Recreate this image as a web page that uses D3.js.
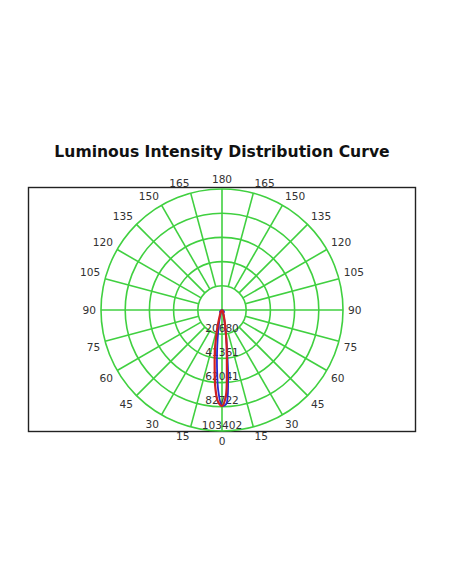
<!DOCTYPE html>
<html><head><meta charset="utf-8">
<script src="https://cdn.jsdelivr.net/npm/d3@7/dist/d3.min.js"></script>
<style>html,body{margin:0;padding:0;background:#fff;}svg{display:block;}</style>
</head><body><svg id="c" width="452" height="584"></svg>
<script>
const title = "Luminous Intensity Distribution Curve";
const ringValues = [20680, 41361, 62041, 82722, 103402];
const angleTicks = [0, 15, 30, 45, 60, 75, 90, 105, 120, 135, 150, 165, 180];
// signed angles (deg, from nadir; negative = left half)
const curveAngles = [-180,-90,-60,-45,-35,-30,-25,-20,-17.5,-15,-12.5,-10,-7.5,-5,-2.5,0,2.5,5,7.5,10,12.5,15,17.5,20,25,30,35,45,60,90,180];
const redValues  = [0,0,200,600,1300,2200,3600,6000,9000,15000,23000,35000,48000,66000,78500,82000,74000,48000,30000,18000,11000,7000,4500,3000,1800,1200,800,400,100,0,0];
const blueValues = [0,300,1500,2500,1200,1500,2600,4000,5500,8000,12000,19000,31000,49000,70000,81500,80500,60000,32000,17000,10000,6500,4500,3000,2000,1500,1200,2500,1500,300,0];

const svg = d3.select("#c");
const cx = 222, cy = 310, R = 121;
const font = "DejaVu Sans, Verdana, sans-serif";
const green = "#40d040";

svg.append("text").attr("x", cx).attr("y", 157).attr("text-anchor", "middle")
  .attr("font-family", font).attr("font-weight", "bold").attr("font-size", 15.6)
  .attr("fill", "#111").text(title);

svg.append("rect").attr("x", 28.5).attr("y", 187.5).attr("width", 387).attr("height", 244)
  .attr("fill", "none").attr("stroke", "#222").attr("stroke-width", 1.4);

const rScale = d3.scaleLinear().domain([0, d3.max(ringValues)]).range([0, R]);
const g = svg.append("g").attr("transform", `translate(${cx},${cy})`);
const rad = d => d * Math.PI / 180;
const px = (a, r) => r * Math.sin(rad(a));
const py = (a, r) => r * Math.cos(rad(a));

// rings
g.selectAll("circle.ring").data(ringValues).join("circle")
  .attr("r", d => rScale(d)).attr("fill", "none").attr("stroke", green).attr("stroke-width", 1.6);

// spokes every 15 deg, both halves
const spokes = d3.range(0, 360, 15);
const r0 = rScale(ringValues[0]);
g.selectAll("line.spoke").data(spokes).join("line")
  .attr("x1", d => (d % 90 === 0) ? 0 : px(d, r0))
  .attr("y1", d => (d % 90 === 0) ? 0 : py(d, r0))
  .attr("x2", d => px(d, R)).attr("y2", d => py(d, R))
  .attr("stroke", green).attr("stroke-width", 1.6);

// ring labels
g.selectAll("text.rl").data(ringValues).join("text")
  .attr("x", 0).attr("y", d => rScale(d) - 2.5).attr("text-anchor", "middle")
  .attr("font-family", font).attr("font-size", 10.6).attr("fill", "#333").text(d => d);

// angle labels on both sides
const labelData = [];
angleTicks.forEach(a => {
  labelData.push({a: a, t: a});
  if (a !== 0 && a !== 180) labelData.push({a: -a, t: a});
});
const LR = 126;
g.selectAll("text.al").data(labelData).join("text")
  .attr("x", d => px(d.a, LR))
  .attr("y", d => { const c = Math.cos(rad(d.a)); return py(d.a, LR) + (Math.abs(c) < 1e-6 ? 0 : 5 * Math.sign(c)); })
  .attr("dy", "0.35em")
  .attr("text-anchor", d => (d.a === 0 || d.a === 180) ? "middle" : (d.a < 0 ? "end" : "start"))
  .attr("font-family", font).attr("font-size", 10.6).attr("fill", "#333").text(d => d.t);

// curves
const line = d3.lineRadial().curve(d3.curveCatmullRomClosed.alpha(0.5))
  .angle(d => Math.PI - rad(d[0])).radius(d => rScale(d[1]));
const mk = vals => curveAngles.slice(0, -1).map((a, i) => [a, vals[i]]);
g.append("path").attr("d", line(mk(blueValues))).attr("fill", "none")
  .attr("stroke", "#2a2ad0").attr("stroke-width", 1.8);
g.append("path").attr("d", line(mk(redValues))).attr("fill", "none")
  .attr("stroke", "#d02020").attr("stroke-width", 2.2);
</script></body></html>
